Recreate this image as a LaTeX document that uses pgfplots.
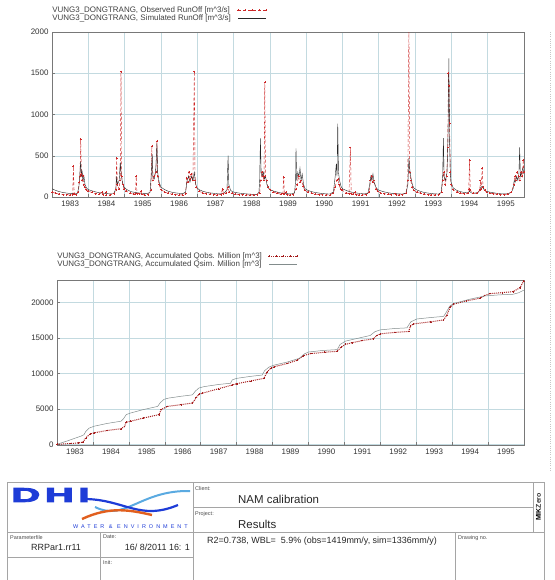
\documentclass[border=0pt]{standalone}
\usepackage{pgfplots}
\pgfplotsset{compat=1.18}
\usepackage{fontspec}
\setmainfont{Liberation Sans}
\definecolor{obsred}{RGB}{205,40,40}
\definecolor{cumred}{RGB}{165,30,30}
\definecolor{simgray}{RGB}{130,140,140}
\definecolor{gridc}{RGB}{195,218,224}
\definecolor{framec}{RGB}{120,120,120}
\definecolor{blockc}{RGB}{165,165,165}
\definecolor{dhiblue}{RGB}{30,60,215}
\definecolor{dhilight}{RGB}{90,170,225}
\definecolor{dhiorange}{RGB}{225,95,30}
\pgfplotsset{
  dhi/.style={
    scale only axis,
    xmin=1983, xmax=1996,
    axis line style={draw=framec, line width=0.6pt},
    grid=major, grid style={gridc, line width=0.5pt},
    xtick={1984,...,1995}, xticklabels={},
    minor x tick num=11,
    extra x ticks={1983.5,1984.5,1985.5,1986.5,1987.5,1988.5,1989.5,1990.5,1991.5,1992.5,1993.5,1994.5,1995.5},
    extra x tick labels={1983,1984,1985,1986,1987,1988,1989,1990,1991,1992,1993,1994,1995},
    extra x tick style={grid=none, major tick length=0pt},
    tick style={framec, line width=0.4pt},
    major tick length=3bp, minor tick length=1.5bp,
    tick align=inside, tick pos=left,
    ticklabel style={font=\fontsize{8}{9}\selectfont, text=black!80},
    scaled y ticks=false,
    /pgf/number format/assume math mode=true,
    /pgf/number format/1000 sep={},
    legend plot pos=right,
    legend cell align=left,
    legend style={at={(0,1)}, anchor=south west, draw=none, fill=none,
      inner sep=0pt, outer sep=0pt, row sep=0bp,
      font=\fontsize{8}{8}\selectfont, text=black!75,
      nodes={inner sep=0.3bp}},
    /tikz/every odd column/.append style={column sep=6bp},
    legend image code/.code={\draw[#1,mark repeat=1] plot coordinates {(0bp,0bp) (7bp,0bp) (14bp,0bp) (21bp,0bp) (28bp,0bp)};},
  }
}
\begin{document}
\begin{tikzpicture}
\useasboundingbox (0,0) rectangle (555bp,-580bp);
% ---------------- top: runoff ----------------
\begin{axis}[dhi,
  at={(52bp,-197bp)}, anchor=south west,
  width=472bp, height=165bp,
  ymin=0, ymax=2000, ytick={0,500,1000,1500,2000}, minor y tick num=9,
  legend style={yshift=10bp},
]
\addplot[obsred, densely dashed, line width=0.45pt, mark=+, mark size=1pt, mark options={solid}] coordinates {
(1983.00,60) (1983.10,45) (1983.20,35) (1983.30,30) (1983.40,28) (1983.50,25) (1983.57,30) (1983.59,370) (1983.61,40) (1983.66,30) (1983.72,60) (1983.75,180) (1983.77,250) (1983.79,700) (1983.81,280) (1983.83,200) (1983.85,260) (1983.87,150) (1983.90,120) (1983.95,90)
(1984.00,70) (1984.10,55) (1984.20,40) (1984.30,35) (1984.38,60) (1984.40,30) (1984.48,55) (1984.50,25) (1984.60,25) (1984.70,40) (1984.76,90) (1984.78,470) (1984.80,150) (1984.84,100) (1984.88,200) (1984.90,1520) (1984.92,250) (1984.95,150) (1984.98,100)
(1985.05,70) (1985.15,45) (1985.25,35) (1985.30,40) (1985.32,250) (1985.34,40) (1985.40,40) (1985.45,70) (1985.47,35) (1985.55,25) (1985.65,30) (1985.72,80) (1985.75,620) (1985.77,200) (1985.82,250) (1985.86,300) (1985.89,680) (1985.91,250) (1985.95,150)
(1986.00,90) (1986.10,60) (1986.20,45) (1986.30,35) (1986.40,30) (1986.50,25) (1986.60,25) (1986.68,40) (1986.71,230) (1986.74,180) (1986.77,300) (1986.80,220) (1986.84,280) (1986.88,200) (1986.92,1520) (1986.94,200) (1986.97,120)
(1987.05,70) (1987.15,50) (1987.25,40) (1987.35,35) (1987.45,30) (1987.55,25) (1987.65,30) (1987.70,100) (1987.72,40) (1987.80,50) (1987.85,120) (1987.88,60) (1987.95,45)
(1988.05,35) (1988.15,30) (1988.25,28) (1988.35,25) (1988.45,25) (1988.55,25) (1988.65,30) (1988.72,50) (1988.75,200) (1988.78,300) (1988.81,250) (1988.84,200) (1988.86,1390) (1988.88,250) (1988.91,200) (1988.95,120)
(1989.00,90) (1989.10,60) (1989.20,45) (1989.30,35) (1989.36,40) (1989.38,245) (1989.40,40) (1989.45,60) (1989.47,30) (1989.55,25) (1989.65,30) (1989.72,100) (1989.75,150) (1989.79,250) (1989.83,180) (1989.87,200) (1989.92,130) (1989.96,80)
(1990.05,60) (1990.15,45) (1990.25,35) (1990.35,30) (1990.45,30) (1990.55,25) (1990.65,25) (1990.75,50) (1990.80,120) (1990.84,200) (1990.87,220) (1990.90,150) (1990.95,100)
(1991.00,80) (1991.10,50) (1991.18,40) (1991.22,600) (1991.24,40) (1991.30,35) (1991.35,60) (1991.37,30) (1991.45,25) (1991.55,25) (1991.65,30) (1991.74,60) (1991.77,200) (1991.80,250) (1991.83,180) (1991.87,200) (1991.92,100) (1991.97,70)
(1992.05,50) (1992.15,40) (1992.25,35) (1992.35,30) (1992.45,40) (1992.47,30) (1992.55,25) (1992.65,30) (1992.75,50) (1992.80,200) (1992.83,2150) (1992.85,300) (1992.88,200) (1992.92,120) (1992.96,80)
(1993.05,60) (1993.15,45) (1993.25,35) (1993.35,30) (1993.45,25) (1993.55,25) (1993.65,30) (1993.73,60) (1993.76,200) (1993.79,300) (1993.83,150) (1993.87,250) (1993.90,600) (1993.92,1500) (1993.935,1350) (1993.95,900) (1993.97,300) (1993.99,150)
(1994.05,90) (1994.15,60) (1994.25,45) (1994.35,40) (1994.45,45) (1994.48,100) (1994.50,450) (1994.52,80) (1994.60,50) (1994.70,45) (1994.78,80) (1994.80,200) (1994.82,100) (1994.85,350) (1994.87,120) (1994.92,80) (1994.97,60)
(1995.05,50) (1995.15,40) (1995.25,35) (1995.35,30) (1995.45,30) (1995.55,35) (1995.65,60) (1995.72,150) (1995.75,250) (1995.78,200) (1995.82,300) (1995.85,250) (1995.88,200) (1995.92,300) (1995.95,250) (1995.98,450) (1995.995,300)
};
\addlegendentry{VUNG3\_DONGTRANG, Observed RunOff [m\^{}3/s]}
\addplot[black!85, line width=0.4pt] coordinates {
(1983.00,100) (1983.10,80) (1983.20,65) (1983.30,55) (1983.40,48) (1983.50,42) (1983.60,40) (1983.70,45) (1983.74,120) (1983.77,300) (1983.79,430) (1983.81,250) (1983.83,320) (1983.85,200) (1983.88,250) (1983.91,150) (1983.95,110)
(1984.00,90) (1984.10,75) (1984.20,62) (1984.30,52) (1984.40,48) (1984.50,42) (1984.60,38) (1984.70,40) (1984.76,100) (1984.78,250) (1984.80,150) (1984.85,200) (1984.88,420) (1984.90,300) (1984.93,200) (1984.97,130)
(1985.03,100) (1985.10,80) (1985.20,62) (1985.30,55) (1985.40,48) (1985.50,42) (1985.60,40) (1985.70,55) (1985.74,300) (1985.76,520) (1985.78,250) (1985.82,220) (1985.86,350) (1985.89,650) (1985.91,300) (1985.95,180)
(1986.00,120) (1986.10,90) (1986.20,70) (1986.30,58) (1986.40,50) (1986.50,45) (1986.60,40) (1986.68,60) (1986.72,200) (1986.76,250) (1986.80,180) (1986.84,250) (1986.88,200) (1986.92,300) (1986.95,180) (1986.98,120)
(1987.05,90) (1987.15,70) (1987.25,58) (1987.35,50) (1987.45,45) (1987.55,40) (1987.65,38) (1987.75,50) (1987.82,90) (1987.85,500) (1987.87,150) (1987.92,80) (1987.97,65)
(1988.05,55) (1988.15,48) (1988.25,42) (1988.35,38) (1988.45,35) (1988.55,32) (1988.65,32) (1988.70,60) (1988.72,200) (1988.74,710) (1988.76,300) (1988.79,250) (1988.82,300) (1988.85,220) (1988.88,250) (1988.92,150) (1988.96,110)
(1989.00,90) (1989.10,72) (1989.20,60) (1989.30,50) (1989.40,45) (1989.50,40) (1989.60,38) (1989.68,50) (1989.71,200) (1989.72,590) (1989.74,200) (1989.77,300) (1989.80,250) (1989.83,350) (1989.86,200) (1989.89,280) (1989.93,150) (1989.97,100)
(1990.05,80) (1990.15,65) (1990.25,55) (1990.35,48) (1990.45,42) (1990.55,38) (1990.65,36) (1990.75,60) (1990.80,250) (1990.83,400) (1990.85,250) (1990.87,890) (1990.89,300) (1990.92,200) (1990.96,130)
(1991.00,100) (1991.10,80) (1991.20,65) (1991.30,55) (1991.40,48) (1991.50,42) (1991.60,38) (1991.70,45) (1991.75,150) (1991.78,250) (1991.81,200) (1991.84,280) (1991.87,180) (1991.92,120) (1991.97,90)
(1992.05,75) (1992.15,62) (1992.25,52) (1992.35,45) (1992.45,42) (1992.55,38) (1992.65,36) (1992.75,45) (1992.80,150) (1992.82,350) (1992.83,470) (1992.85,350) (1992.88,250) (1992.92,160) (1992.96,110)
(1993.05,85) (1993.15,68) (1993.25,55) (1993.35,48) (1993.45,42) (1993.55,38) (1993.65,36) (1993.72,55) (1993.76,250) (1993.78,715) (1993.80,250) (1993.84,200) (1993.88,300) (1993.91,800) (1993.93,1680) (1993.95,700) (1993.97,300) (1993.99,180)
(1994.05,110) (1994.15,80) (1994.25,65) (1994.35,55) (1994.45,50) (1994.50,70) (1994.55,50) (1994.65,45) (1994.75,60) (1994.80,110) (1994.85,130) (1994.90,90) (1994.96,70)
(1995.05,60) (1995.15,52) (1995.25,45) (1995.35,40) (1995.45,38) (1995.55,40) (1995.65,55) (1995.70,100) (1995.73,200) (1995.76,180) (1995.80,250) (1995.83,200) (1995.86,280) (1995.88,600) (1995.90,250) (1995.94,300) (1995.97,350) (1995.995,280)
};
\addlegendentry{VUNG3\_DONGTRANG, Simulated RunOff [m\^{}3/s]}
\end{axis}
% ---------------- bottom: accumulated ----------------
\begin{axis}[dhi,
  at={(57bp,-445bp)}, anchor=south west,
  width=467bp, height=165bp,
  ymin=-100, ymax=23200, ytick={0,5000,10000,15000,20000}, minor y tick num=4,
  legend style={yshift=12bp},
]
\addplot[cumred, densely dotted, line width=1pt, mark=+, mark size=0.9pt, mark options={solid, line width=0.4pt}] coordinates {
(1983.00,0) (1983.40,120) (1983.60,200) (1983.72,300) (1983.80,900) (1983.92,1450) (1984.04,1630) (1984.40,1950) (1984.78,2200) (1984.88,2500) (1984.92,3100) (1985.05,3260) (1985.40,3700) (1985.84,4190) (1985.90,4900) (1986.07,5350) (1986.45,5600) (1986.77,5820) (1986.88,6600) (1986.95,7050) (1987.05,7220) (1987.50,7850) (1987.88,8380) (1988.00,8550) (1988.40,8950) (1988.76,9310) (1988.85,10200) (1988.95,10750) (1989.04,10940) (1989.40,11400) (1989.69,11870) (1989.85,12500) (1990.06,12810) (1990.45,13000) (1990.80,13130) (1990.90,13700) (1991.03,14110) (1991.22,14350) (1991.50,14650) (1991.81,14900) (1991.90,15350) (1992.00,15600) (1992.40,15800) (1992.79,15930) (1992.84,16700) (1992.92,17000) (1993.40,17300) (1993.76,17560) (1993.85,18200) (1993.95,19400) (1994.04,19790) (1994.40,20250) (1994.78,20630) (1994.90,21000) (1995.06,21280) (1995.40,21420) (1995.70,21560) (1995.89,22120) (1995.99,23050)
};
\addlegendentry{VUNG3\_DONGTRANG, Accumulated Qobs. Million [m\^{}3]}
\addplot[simgray, line width=0.5pt] coordinates {
(1983.00,0) (1983.30,500) (1983.67,1160) (1983.75,1350) (1983.80,1800) (1983.90,2300) (1984.04,2560) (1984.40,2950) (1984.78,3260) (1984.85,3600) (1984.93,4200) (1985.05,4420) (1985.40,4900) (1985.80,5350) (1985.88,5900) (1985.98,6350) (1986.10,6520) (1986.45,6780) (1986.77,6980) (1986.85,7500) (1986.95,7950) (1987.10,8150) (1987.50,8450) (1987.83,8620) (1987.88,9100) (1988.00,9310) (1988.40,9600) (1988.71,9780) (1988.78,10400) (1988.90,10900) (1989.04,11180) (1989.40,11600) (1989.75,12150) (1989.88,12750) (1990.00,13030) (1990.40,13250) (1990.80,13370) (1990.88,14100) (1991.03,14570) (1991.40,15000) (1991.72,15370) (1991.85,15900) (1992.00,16160) (1992.40,16350) (1992.74,16440) (1992.85,17300) (1993.02,17700) (1993.40,17900) (1993.76,18060) (1993.82,18500) (1993.93,19500) (1994.04,19880) (1994.50,20500) (1994.92,20950) (1995.30,21100) (1995.70,21190) (1995.85,21400) (1995.99,21750)
};
\addlegendentry{VUNG3\_DONGTRANG, Accumulated Qsim. Million [m\^{}3]}
\end{axis}
% ---------------- right edge strip ----------------
\draw[gray!45, dash pattern=on 1bp off 1.2bp, line width=0.8bp] (550bp,-32bp) -- (550bp,-470bp);
% ---------------- title block ----------------
\begin{scope}[draw=blockc, line width=0.7bp]
\draw (7bp,-580bp) -- (7bp,-482bp) -- (544bp,-482bp) -- (544bp,-580bp);
\draw (7bp,-532bp) -- (544bp,-532bp);
\draw (193bp,-482bp) -- (193bp,-580bp);
\draw (193bp,-507bp) -- (533bp,-507bp);
\draw (533bp,-482bp) -- (533bp,-532bp);
\draw (100bp,-532bp) -- (100bp,-580bp);
\draw (7bp,-557bp) -- (193bp,-557bp);
\draw (455bp,-532bp) -- (455bp,-580bp);
\end{scope}
% DHI logo
\node[anchor=west, text=dhiblue, font=\fontsize{20}{20}\selectfont\bfseries\addfontfeature{FakeBold=4,LetterSpace=12}, xscale=2.0, inner sep=0pt] at (11bp,-495bp) {DHI};
\draw[dhilight, line width=2bp] (95bp,-507bp) .. controls (125bp,-522bp) and (140bp,-490bp) .. (190bp,-491bp);
\draw[dhiblue, line width=2.2bp] (86bp,-499bp) .. controls (125bp,-500bp) and (140bp,-521bp) .. (178bp,-505bp);
\draw[dhiorange, line width=2.4bp] (82bp,-519bp) .. controls (110bp,-506bp) and (130bp,-510bp) .. (152bp,-515bp);
\node[anchor=east, text=dhiblue, font=\fontsize{5.5}{6}\selectfont\addfontfeature{LetterSpace=55}, inner sep=0pt] at (188bp,-526.5bp) {WATER \& ENVIRONMENT};
% labels
\tikzset{small/.style={anchor=north west, inner sep=0pt, text=black!70, font=\fontsize{5.5}{6}\selectfont}}
\node[small] at (195bp,-486bp) {Client:};
\node[small] at (195bp,-511bp) {Project:};
\node[small] at (10bp,-535bp) {Parameterfile};
\node[small] at (103bp,-535bp) {Date:};
\node[small] at (103bp,-560bp) {Init:};
\node[small] at (458bp,-535bp) {Drawing no.};
\node[anchor=west, inner sep=0pt, font=\fontsize{11.5}{12}\selectfont, text=black!85] at (238bp,-499bp) {NAM calibration};
\node[anchor=west, inner sep=0pt, font=\fontsize{11.5}{12}\selectfont, text=black!85] at (238bp,-524bp) {Results};
\node[anchor=center, inner sep=0pt, font=\fontsize{9}{10}\selectfont, text=black!85] at (56bp,-547bp) {RRPar1.rr11};
\node[anchor=east, inner sep=0pt, font=\fontsize{9}{10}\selectfont, text=black!85] at (190bp,-547bp) {16/ 8/2011 16: 1};
\node[anchor=west, inner sep=0pt, font=\fontsize{9}{10}\selectfont, text=black!85] at (207bp,-541bp) {R2=0.738, WBL=\ \ 5.9\% (obs=1419mm/y, sim=1336mm/y)};
\node[rotate=90, anchor=center, inner sep=0pt, font=\fontsize{7}{7}\selectfont\bfseries] at (538.5bp,-507bp) {MIK\textcolor{black!80}{Zero}};
\end{tikzpicture}
\end{document}
